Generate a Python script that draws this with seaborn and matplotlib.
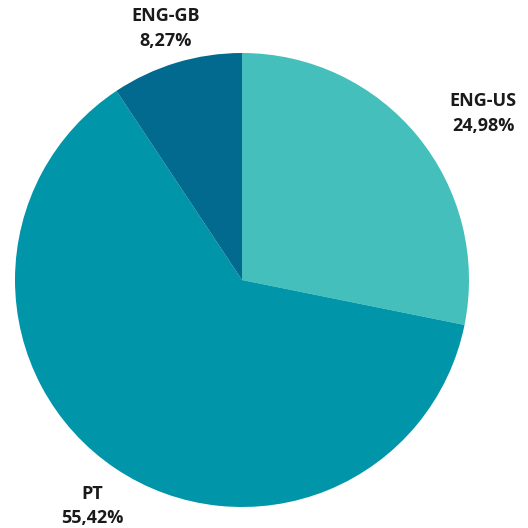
import matplotlib
matplotlib.use("Agg")
import matplotlib.pyplot as plt
import seaborn as sns

categories = ["ENG-US", "PT", "ENG-GB"]
values = [24.98, 55.42, 8.27]
pct_labels = ["24,98%", "55,42%", "8,27%"]

sns.set_theme(style="white")
plt.rcParams["font.family"] = ["Open Sans", "DejaVu Sans"]

colors = ["#44BFBC", "#0095A9", "#016A8E"]

fig = plt.figure(figsize=(5.28, 5.28), dpi=100)
ax = fig.add_axes([0, 0, 1, 1])

labels = [f"{c}\n{p}" for c, p in zip(categories, pct_labels)]
wedges, texts = ax.pie(values, colors=colors, startangle=90, counterclock=False,
                       center=(242, 248), radius=227, labels=labels,
                       labeldistance=1.18, frame=True,
                       wedgeprops=dict(linewidth=0),
                       textprops=dict(fontsize=13, fontweight="bold", color="#1a1a1a",
                                      ha="center", va="center", linespacing=1.45))
ax.set_xlim(0, 528)
ax.set_ylim(0, 528)
ax.set_aspect("equal")
ax.axis("off")

# label nudges (pixels)
offsets = [(34, -3), (0, -4), (1, -5)]
for t, (dx, dy) in zip(texts, offsets):
    x, y = t.get_position()
    t.set_position((x + dx, y + dy))
    t.set_ha("center")

fig.savefig("out.png", dpi=100)
